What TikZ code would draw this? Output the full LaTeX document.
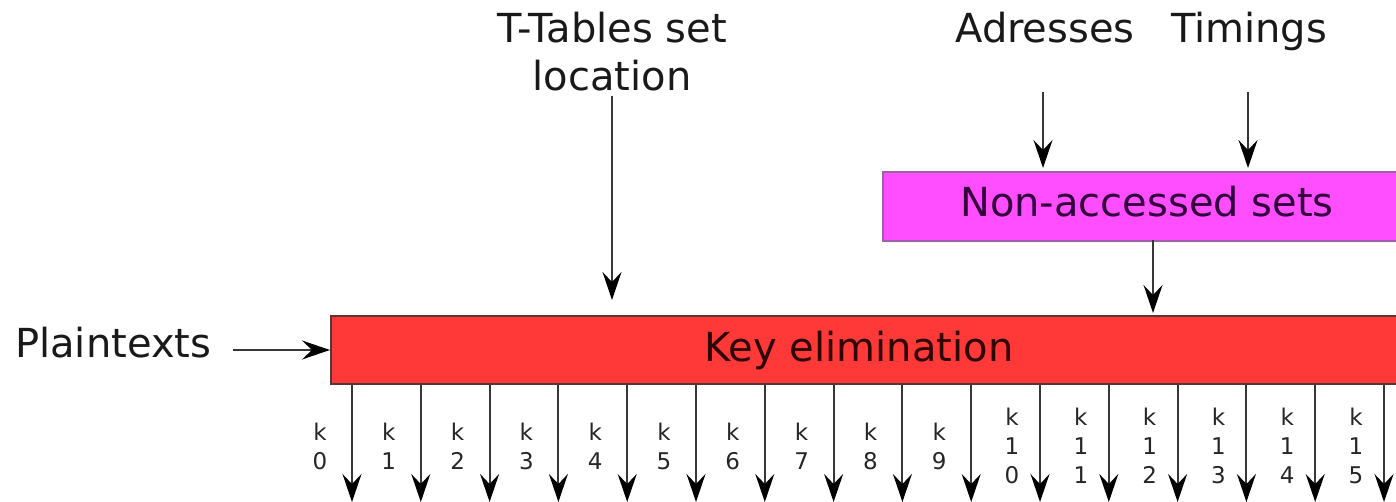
\documentclass[tikz,border=0pt]{standalone}
\usepackage{fontspec}
\setmainfont{DejaVu Sans}
\usetikzlibrary{arrows.meta,calc}

\definecolor{boxred}{RGB}{255,56,56}
\definecolor{boxredline}{RGB}{90,52,48}
\definecolor{boxmag}{RGB}{255,78,255}
\definecolor{boxmagline}{RGB}{160,96,165}
\definecolor{wire}{RGB}{55,55,55}
\definecolor{redtext}{RGB}{45,5,5}
\definecolor{magtext}{RGB}{50,0,60}

\tikzset{
  bigtext/.style={inner sep=0pt, text=black!90,
    font=\fontsize{40}{48}\selectfont, align=center},
  klabel/.style={inner sep=0pt, text=black!85,
    font=\fontsize{23}{29}\selectfont, align=center},
  redbox/.style={draw=boxredline, fill=boxred, line width=2pt,
    minimum height=68pt, inner sep=0pt},
  magbox/.style={draw=boxmagline, fill=boxmag, line width=2pt,
    minimum height=69pt, inner sep=0pt},
  arrowline/.style={draw=wire, line width=2pt,
    -{Stealth[length=28pt, width=19pt, inset=10pt, black]}},
}

\begin{document}
\begin{tikzpicture}[x=1pt, y=-1pt]
  \useasboundingbox (0,0) rectangle (1396,502);
  \clip (0,0) rectangle (1396,502);

  % processing blocks (both run past the right edge)
  \node[redbox, minimum width=1100pt, anchor=north west] (keyelim) at (330,315) {};
  \node[bigtext, anchor=base, text=redtext] (keytxt) at (859,361) {Key elimination};

  \node[magbox, minimum width=540pt, anchor=north west] (nonacc) at (882,171) {};
  \node[bigtext, anchor=base, text=magtext] (nontxt) at (1147,217) {Non-accessed sets};

  % inputs
  \node[bigtext] (ttab) at (612,52) {T-Tables set\\location};
  \node[bigtext, anchor=base] (addr) at (1045,43) {Adresses};
  \node[bigtext, anchor=base] (tim) at (1249,43) {Timings};
  \node[bigtext, anchor=base west] (plain) at (15,357) {Plaintexts};

  % where the input wires leave their labels
  \coordinate (addrout) at (1043,92);
  \coordinate (timout) at (1248,92);
  \coordinate (nonout) at (1153,240);

  % input connectors
  \draw[arrowline, shorten <=4pt, shorten >=15pt] (ttab.south) -- (ttab.south |- keyelim.north);
  \draw[arrowline, shorten >=3pt] (addrout) -- (addrout |- nonacc.north);
  \draw[arrowline, shorten >=3pt] (timout) -- (timout |- nonacc.north);
  \draw[arrowline, shorten >=2pt] (nonout) -- (nonout |- keyelim.north);
  \draw[arrowline, shorten <=22pt] (plain.east |- keyelim.west) -- (keyelim.west);

  % one output per key byte
  \foreach \i in {0,...,15}{
    \pgfmathsetmacro\x{352+68.8*\i}
    \coordinate (o\i) at ($(keyelim.south west)+(\x-330,0)$);
    \coordinate (e\i) at ($(o\i)+(0,117)$);
    \draw[arrowline] (o\i) -- (e\i);
    \ifnum\i<10
      \node[klabel] (k\i) at (\x-32,446) {k\\\i};
    \else
      \pgfmathtruncatemacro\j{\i-10}
      \node[klabel] (k\i) at (\x-28,446) {k\\1\\\j};
    \fi
  }
\end{tikzpicture}
\end{document}
